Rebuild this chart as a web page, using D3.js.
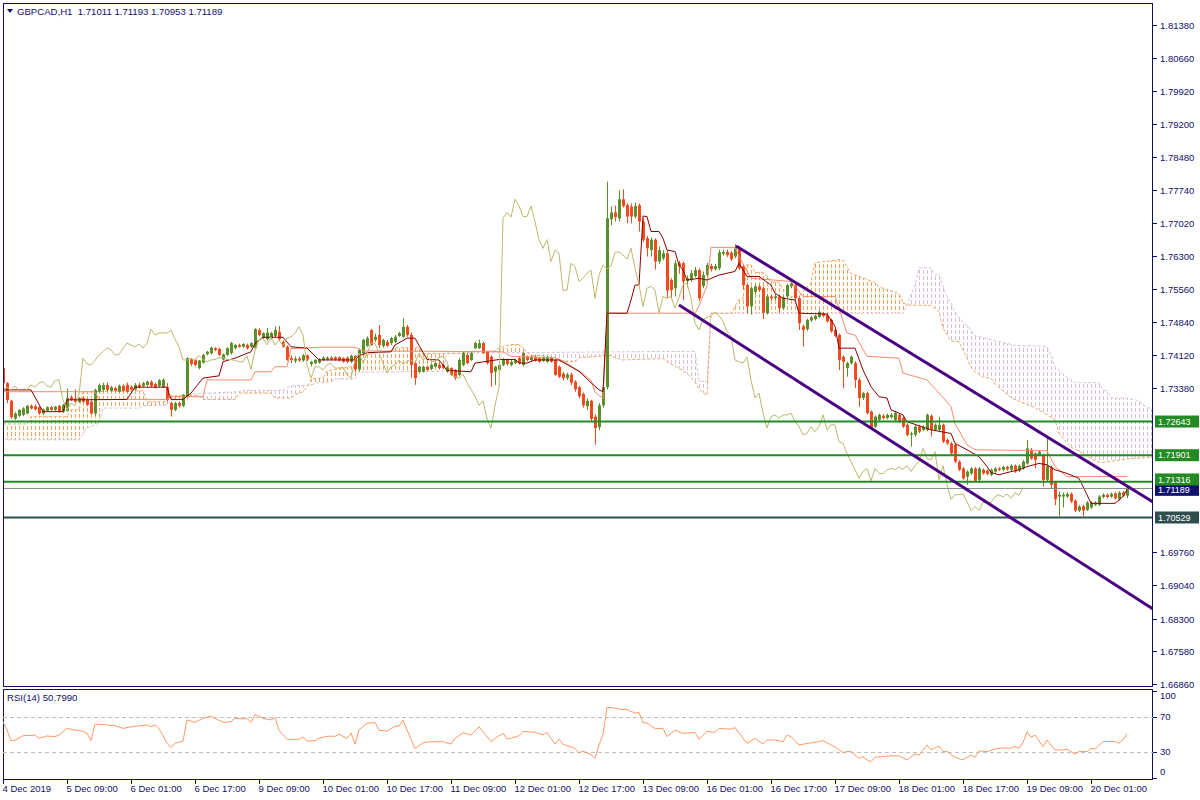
<!DOCTYPE html>
<html><head><meta charset="utf-8">
<script src="https://cdn.jsdelivr.net/npm/d3@7"></script>
<style>
html,body{margin:0;padding:0;background:#fff;overflow:hidden;}
svg text{font-family:"Liberation Sans",Arial,sans-serif;}
</style></head><body>
<svg id="chart" width="1200" height="800"></svg>
<script>
// ---------------- DATA ----------------
const symbolTitle = "GBPCAD,H1  1.71011 1.71193 1.70953 1.71189";
const rsiTitle = "RSI(14) 50.7990";
// hourly candles [open, high, low, close], 4 Dec 2019 17:00 -> 20 Dec 2019 10:00
const candles = [
[1.7382,1.7385,1.7346,1.7349],[1.7349,1.7351,1.7305,1.7312],[1.7310,1.7312,1.7270,1.7274],[1.7271,1.7285,1.7268,1.7282],
[1.7277,1.7292,1.7274,1.7290],[1.7279,1.7296,1.7276,1.7293],[1.7282,1.7301,1.7280,1.7299],[1.7299,1.7302,1.7291,1.7293],
[1.7298,1.7302,1.7289,1.7291],[1.7296,1.7298,1.7279,1.7282],[1.7282,1.7293,1.7278,1.7291],[1.7288,1.7298,1.7286,1.7296],
[1.7296,1.7298,1.7288,1.7290],[1.7290,1.7299,1.7287,1.7297],[1.7299,1.7301,1.7284,1.7286],[1.7286,1.7303,1.7283,1.7301],
[1.7288,1.7337,1.7286,1.7316],[1.7318,1.7322,1.7310,1.7312],[1.7315,1.7335,1.7306,1.7308],[1.7308,1.7318,1.7305,1.7316],
[1.7316,1.7319,1.7305,1.7308],[1.7312,1.7315,1.7298,1.7301],[1.7308,1.7311,1.7280,1.7282],[1.7282,1.7337,1.7277,1.7334],
[1.7330,1.7348,1.7328,1.7345],[1.7334,1.7350,1.7330,1.7345],[1.7345,1.7350,1.7330,1.7334],[1.7332,1.7343,1.7330,1.7340],
[1.7338,1.7341,1.7330,1.7332],[1.7330,1.7346,1.7328,1.7343],[1.7343,1.7346,1.7330,1.7332],[1.7345,1.7350,1.7328,1.7330],
[1.7341,1.7344,1.7333,1.7335],[1.7335,1.7349,1.7333,1.7345],[1.7345,1.7350,1.7337,1.7340],[1.7343,1.7352,1.7340,1.7349],
[1.7345,1.7355,1.7342,1.7352],[1.7352,1.7355,1.7340,1.7343],[1.7347,1.7350,1.7337,1.7340],[1.7343,1.7358,1.7340,1.7355],
[1.7340,1.7360,1.7338,1.7356],[1.7340,1.7349,1.7308,1.7312],[1.7305,1.7308,1.7275,1.7290],[1.7290,1.7308,1.7287,1.7305],
[1.7305,1.7308,1.7295,1.7299],[1.7299,1.7325,1.7296,1.7323],[1.7319,1.7406,1.7317,1.7404],[1.7401,1.7404,1.7387,1.7391],
[1.7400,1.7403,1.7386,1.7389],[1.7382,1.7400,1.7379,1.7399],[1.7394,1.7413,1.7392,1.7411],[1.7413,1.7420,1.7410,1.7418],
[1.7415,1.7429,1.7412,1.7427],[1.7426,1.7428,1.7419,1.7422],[1.7424,1.7427,1.7409,1.7411],[1.7401,1.7414,1.7399,1.7412],
[1.7411,1.7428,1.7409,1.7426],[1.7415,1.7440,1.7412,1.7437],[1.7426,1.7435,1.7423,1.7433],[1.7433,1.7436,1.7427,1.7429],
[1.7429,1.7437,1.7427,1.7435],[1.7433,1.7436,1.7423,1.7426],[1.7429,1.7439,1.7427,1.7437],[1.7426,1.7470,1.7423,1.7468],
[1.7466,1.7470,1.7452,1.7455],[1.7448,1.7461,1.7445,1.7459],[1.7446,1.7470,1.7443,1.7460],[1.7448,1.7462,1.7445,1.7459],
[1.7453,1.7474,1.7450,1.7466],[1.7462,1.7475,1.7443,1.7446],[1.7440,1.7443,1.7427,1.7429],[1.7429,1.7432,1.7398,1.7400],
[1.7404,1.7410,1.7393,1.7400],[1.7398,1.7408,1.7393,1.7403],[1.7403,1.7407,1.7396,1.7399],[1.7399,1.7413,1.7396,1.7410],
[1.7410,1.7412,1.7398,1.7401],[1.7391,1.7398,1.7386,1.7396],[1.7393,1.7402,1.7390,1.7400],[1.7394,1.7404,1.7392,1.7401],
[1.7400,1.7408,1.7398,1.7405],[1.7401,1.7408,1.7399,1.7405],[1.7405,1.7408,1.7399,1.7401],[1.7406,1.7408,1.7398,1.7401],
[1.7406,1.7408,1.7397,1.7399],[1.7404,1.7406,1.7394,1.7396],[1.7405,1.7408,1.7393,1.7396],[1.7396,1.7412,1.7393,1.7409],
[1.7409,1.7411,1.7374,1.7379],[1.7379,1.7425,1.7374,1.7422],[1.7415,1.7447,1.7412,1.7444],[1.7431,1.7452,1.7429,1.7448],
[1.7466,1.7468,1.7431,1.7433],[1.7444,1.7458,1.7440,1.7451],[1.7455,1.7477,1.7426,1.7433],[1.7431,1.7447,1.7427,1.7444],
[1.7440,1.7444,1.7429,1.7431],[1.7437,1.7451,1.7433,1.7448],[1.7440,1.7455,1.7437,1.7451],[1.7453,1.7462,1.7451,1.7459],
[1.7451,1.7492,1.7448,1.7473],[1.7473,1.7477,1.7451,1.7455],[1.7455,1.7460,1.7360,1.7389],[1.7393,1.7397,1.7345,1.7360],
[1.7374,1.7387,1.7370,1.7385],[1.7374,1.7388,1.7372,1.7385],[1.7385,1.7388,1.7376,1.7378],[1.7380,1.7392,1.7378,1.7389],
[1.7385,1.7396,1.7383,1.7393],[1.7389,1.7393,1.7380,1.7382],[1.7389,1.7391,1.7380,1.7382],[1.7374,1.7386,1.7372,1.7384],
[1.7382,1.7384,1.7365,1.7367],[1.7378,1.7380,1.7356,1.7360],[1.7367,1.7404,1.7364,1.7400],[1.7389,1.7418,1.7386,1.7415],
[1.7411,1.7415,1.7391,1.7393],[1.7400,1.7418,1.7398,1.7415],[1.7426,1.7440,1.7424,1.7437],[1.7426,1.7445,1.7424,1.7437],
[1.7437,1.7440,1.7413,1.7415],[1.7418,1.7420,1.7390,1.7393],[1.7407,1.7410,1.7341,1.7371],[1.7374,1.7387,1.7345,1.7385],
[1.7378,1.7396,1.7374,1.7389],[1.7389,1.7404,1.7386,1.7400],[1.7400,1.7403,1.7388,1.7391],[1.7389,1.7400,1.7386,1.7396],
[1.7393,1.7402,1.7391,1.7400],[1.7404,1.7407,1.7390,1.7393],[1.7389,1.7417,1.7386,1.7415],[1.7407,1.7410,1.7397,1.7400],
[1.7400,1.7410,1.7397,1.7407],[1.7406,1.7410,1.7396,1.7398],[1.7404,1.7406,1.7394,1.7396],[1.7398,1.7408,1.7396,1.7406],
[1.7396,1.7409,1.7394,1.7407],[1.7405,1.7408,1.7394,1.7396],[1.7400,1.7402,1.7365,1.7367],[1.7385,1.7388,1.7360,1.7363],
[1.7370,1.7374,1.7355,1.7360],[1.7360,1.7372,1.7356,1.7368],[1.7368,1.7372,1.7345,1.7350],[1.7352,1.7355,1.7330,1.7335],
[1.7340,1.7343,1.7315,1.7320],[1.7325,1.7328,1.7295,1.7300],[1.7298,1.7315,1.7290,1.7310],[1.7310,1.7312,1.7265,1.7270],
[1.7275,1.7280,1.7213,1.7250],[1.7252,1.7305,1.7245,1.7300],[1.7300,1.7345,1.7295,1.7340],[1.7340,1.7793,1.7335,1.7712],
[1.7710,1.7738,1.7697,1.7725],[1.7725,1.7740,1.7705,1.7715],[1.7712,1.7774,1.7705,1.7754],[1.7754,1.7776,1.7736,1.7739],
[1.7741,1.7745,1.7701,1.7716],[1.7738,1.7745,1.7701,1.7716],[1.7716,1.7747,1.7712,1.7739],[1.7741,1.7745,1.7683,1.7705],
[1.7705,1.7712,1.7660,1.7665],[1.7668,1.7673,1.7628,1.7646],[1.7642,1.7670,1.7628,1.7665],[1.7665,1.7668,1.7599,1.7617],
[1.7617,1.7650,1.7612,1.7642],[1.7624,1.7642,1.7620,1.7635],[1.7635,1.7640,1.7536,1.7553],[1.7576,1.7580,1.7535,1.7554],
[1.7558,1.7620,1.7540,1.7613],[1.7613,1.7618,1.7590,1.7606],[1.7613,1.7617,1.7532,1.7573],[1.7574,1.7586,1.7560,1.7580],
[1.7576,1.7598,1.7572,1.7591],[1.7585,1.7605,1.7582,1.7598],[1.7598,1.7602,1.7530,1.7536],[1.7563,1.7595,1.7558,1.7587],
[1.7587,1.7614,1.7582,1.7609],[1.7607,1.7612,1.7595,1.7600],[1.7600,1.7612,1.7597,1.7607],[1.7602,1.7643,1.7598,1.7637],
[1.7634,1.7643,1.7630,1.7638],[1.7638,1.7643,1.7627,1.7631],[1.7636,1.7640,1.7618,1.7622],[1.7628,1.7655,1.7624,1.7646],
[1.7646,1.7650,1.7598,1.7602],[1.7606,1.7610,1.7555,1.7565],[1.7565,1.7568,1.7503,1.7518],[1.7518,1.7562,1.7500,1.7558],
[1.7550,1.7566,1.7545,1.7562],[1.7562,1.7566,1.7550,1.7554],[1.7558,1.7562,1.7490,1.7504],[1.7503,1.7545,1.7500,1.7540],
[1.7540,1.7544,1.7532,1.7536],[1.7536,1.7544,1.7532,1.7540],[1.7540,1.7543,1.7503,1.7514],[1.7514,1.7542,1.7510,1.7538],
[1.7540,1.7568,1.7536,1.7565],[1.7562,1.7575,1.7558,1.7569],[1.7565,1.7570,1.7532,1.7536],[1.7536,1.7540,1.7466,1.7481],
[1.7474,1.7478,1.7429,1.7466],[1.7468,1.7491,1.7464,1.7488],[1.7487,1.7497,1.7484,1.7494],[1.7490,1.7500,1.7487,1.7497],
[1.7495,1.7509,1.7492,1.7506],[1.7503,1.7506,1.7494,1.7497],[1.7499,1.7503,1.7482,1.7485],[1.7488,1.7491,1.7460,1.7463],
[1.7466,1.7469,1.7450,1.7453],[1.7455,1.7458,1.7378,1.7400],[1.7407,1.7410,1.7338,1.7396],[1.7382,1.7396,1.7363,1.7393],
[1.7393,1.7410,1.7390,1.7407],[1.7393,1.7397,1.7338,1.7356],[1.7356,1.7360,1.7297,1.7316],[1.7316,1.7330,1.7312,1.7327],
[1.7327,1.7330,1.7280,1.7283],[1.7286,1.7289,1.7246,1.7250],[1.7253,1.7278,1.7250,1.7275],[1.7268,1.7282,1.7265,1.7279],
[1.7277,1.7281,1.7269,1.7272],[1.7272,1.7282,1.7269,1.7279],[1.7274,1.7283,1.7271,1.7279],[1.7268,1.7287,1.7265,1.7283],
[1.7279,1.7282,1.7261,1.7264],[1.7272,1.7276,1.7250,1.7253],[1.7257,1.7260,1.7232,1.7235],[1.7235,1.7242,1.7209,1.7238],
[1.7235,1.7256,1.7231,1.7253],[1.7253,1.7257,1.7239,1.7242],[1.7246,1.7256,1.7243,1.7253],[1.7246,1.7282,1.7243,1.7279],
[1.7277,1.7280,1.7231,1.7246],[1.7246,1.7260,1.7243,1.7257],[1.7246,1.7275,1.7243,1.7257],[1.7257,1.7260,1.7217,1.7220],
[1.7224,1.7227,1.7213,1.7216],[1.7216,1.7219,1.7191,1.7194],[1.7213,1.7216,1.7173,1.7176],[1.7176,1.7179,1.7155,1.7158],
[1.7161,1.7164,1.7136,1.7139],[1.7143,1.7157,1.7125,1.7154],[1.7150,1.7164,1.7147,1.7161],[1.7161,1.7164,1.7131,1.7134],
[1.7136,1.7164,1.7133,1.7161],[1.7158,1.7161,1.7147,1.7150],[1.7156,1.7159,1.7146,1.7149],[1.7147,1.7161,1.7144,1.7158],
[1.7154,1.7164,1.7151,1.7161],[1.7161,1.7164,1.7155,1.7158],[1.7158,1.7167,1.7155,1.7164],[1.7164,1.7167,1.7156,1.7159],
[1.7158,1.7170,1.7155,1.7167],[1.7167,1.7170,1.7151,1.7154],[1.7156,1.7170,1.7153,1.7167],[1.7161,1.7179,1.7158,1.7176],
[1.7172,1.7224,1.7169,1.7205],[1.7202,1.7206,1.7180,1.7183],[1.7194,1.7197,1.7161,1.7180],[1.7191,1.7201,1.7188,1.7198],
[1.7191,1.7194,1.7121,1.7136],[1.7136,1.7231,1.7133,1.7167],[1.7164,1.7167,1.7118,1.7125],[1.7130,1.7133,1.7080,1.7093],
[1.7099,1.7110,1.7056,1.7103],[1.7099,1.7108,1.7075,1.7103],[1.7099,1.7108,1.7096,1.7105],[1.7105,1.7108,1.7085,1.7088],
[1.7090,1.7093,1.7065,1.7068],[1.7068,1.7080,1.7065,1.7077],[1.7078,1.7081,1.7056,1.7068],[1.7070,1.7089,1.7067,1.7086],
[1.7075,1.7089,1.7072,1.7086],[1.7081,1.7089,1.7078,1.7086],[1.7081,1.7102,1.7078,1.7099],[1.7098,1.7106,1.7095,1.7103],
[1.7103,1.7106,1.7095,1.7098],[1.7099,1.7108,1.7096,1.7105],[1.7106,1.7109,1.7092,1.7095],[1.7093,1.7111,1.7090,1.7108],
[1.7108,1.7111,1.7098,1.7101],[1.71011,1.71193,1.70953,1.71189]
];
// Ichimoku lines: [bar index, price]
const tenkan = [[0,1.7334],[7,1.7334],[10,1.7286],[15,1.7286],[16,1.7312],[31,1.7313],[33,1.7340],[41,1.7340],[42,1.7313],[45,1.7313],[47,1.7327],[50,1.7360],[54,1.7365],[55,1.7396],[58,1.7404],[62,1.7418],[63,1.7437],[65,1.7450],[70,1.7450],[72,1.7429],[76,1.7426],[79,1.7400],[88,1.7400],[89,1.7409],[91,1.7416],[97,1.7418],[98,1.7433],[101,1.7448],[103,1.7448],[106,1.7401],[109,1.7400],[111,1.7377],[117,1.7374],[118,1.7393],[124,1.7401],[128,1.7401],[129,1.7393],[131,1.7393],[133,1.7400],[139,1.7400],[141,1.7390],[144,1.7375],[147,1.7350],[149,1.7334],[150,1.7330],[151,1.7503],[156,1.7503],[157,1.7532],[158,1.7565],[159,1.7565],[160,1.7717],[161,1.7716],[162,1.7683],[164,1.7683],[165,1.7668],[166,1.7642],[168,1.7639],[169,1.7609],[170,1.7598],[171,1.7576],[174,1.7580],[176,1.7576],[179,1.7587],[183,1.7595],[184,1.7613],[186,1.7584],[189,1.7584],[192,1.7565],[193,1.7547],[195,1.7536],[198,1.7532],[199,1.7503],[206,1.7501],[208,1.7474],[209,1.7426],[213,1.7426],[215,1.7378],[217,1.7341],[219,1.7319],[221,1.7316],[222,1.7290],[225,1.7279],[226,1.7264],[232,1.7246],[237,1.7238],[238,1.7216],[241,1.7202],[244,1.7187],[246,1.7165],[247,1.7152],[249,1.7147],[252,1.7154],[254,1.7158],[256,1.7165],[259,1.7172],[261,1.7169],[263,1.7158],[266,1.7150],[269,1.7139],[271,1.7103],[272,1.7084],[278,1.7084],[280,1.7099],[281,1.7114]];
const kijun = [[0,1.7330],[23,1.7330],[24,1.7313],[41,1.7313],[42,1.7319],[50,1.7319],[51,1.7356],[62,1.7356],[63,1.7374],[67,1.7374],[68,1.7385],[71,1.7385],[72,1.7425],[79,1.7428],[88,1.7428],[90,1.7420],[125,1.7418],[127,1.7408],[138,1.7405],[140,1.7398],[145,1.7370],[147,1.7355],[148,1.7329],[150,1.7315],[151,1.7503],[173,1.7503],[174,1.7519],[176,1.7564],[177,1.7648],[183,1.7648],[184,1.7628],[187,1.7580],[197,1.7573],[200,1.7540],[208,1.7540],[211,1.7459],[213,1.7455],[216,1.7408],[224,1.7404],[225,1.7371],[231,1.7356],[234,1.7327],[237,1.7297],[238,1.7260],[241,1.7213],[243,1.7202],[261,1.7200],[263,1.7165],[266,1.7143],[281,1.7143]];
const senkouA = [[0,1.7259],[6,1.7259],[7,1.7275],[16,1.7275],[17,1.7290],[19,1.7290],[20,1.7330],[35,1.7332],[36,1.7308],[41,1.7308],[42,1.7321],[49,1.7322],[50,1.7313],[58,1.7313],[59,1.7327],[67,1.7327],[68,1.7316],[72,1.7316],[73,1.7323],[75,1.7330],[76,1.7340],[77,1.7358],[80,1.7361],[81,1.7376],[84,1.7380],[88,1.7387],[89,1.7406],[91,1.7412],[94,1.7418],[97,1.7418],[98,1.7427],[104,1.7427],[105,1.7414],[114,1.7414],[117,1.7418],[123,1.7420],[124,1.7426],[127,1.7434],[129,1.7434],[132,1.7410],[135,1.7410],[137,1.7398],[143,1.7396],[144,1.7405],[152,1.7410],[153,1.7405],[155,1.7400],[165,1.7403],[166,1.7396],[167,1.7391],[170,1.7377],[171,1.7370],[173,1.7352],[174,1.7336],[175,1.7328],[176,1.7322],[177,1.7503],[182,1.7503],[183,1.7518],[184,1.7534],[185,1.7534],[186,1.7610],[187,1.7610],[188,1.7593],[190,1.7593],[191,1.7585],[192,1.7572],[194,1.7571],[195,1.7556],[196,1.7550],[197,1.7540],[199,1.7540],[200,1.7550],[202,1.7570],[203,1.7614],[209,1.7621],[210,1.7620],[212,1.7590],[215,1.7581],[218,1.7570],[219,1.7561],[221,1.7555],[224,1.7546],[225,1.7527],[226,1.7521],[232,1.7520],[234,1.7507],[235,1.7470],[237,1.7442],[239,1.7440],[241,1.7404],[242,1.7384],[243,1.7374],[245,1.7362],[247,1.7360],[248,1.7347],[251,1.7325],[252,1.7316],[258,1.7295],[263,1.7268],[264,1.7238],[267,1.7208],[270,1.7194],[272,1.7183],[273,1.7177],[275,1.7174],[278,1.7178],[282,1.7183],[287.5,1.7185]];
const senkouB = [[0,1.7224],[19,1.7224],[21,1.7250],[24,1.7261],[25,1.7294],[34,1.7294],[35,1.7299],[41,1.7301],[42,1.7312],[46,1.7312],[47,1.7325],[59,1.7330],[60,1.7333],[70,1.7333],[72,1.7343],[77,1.7344],[78,1.7349],[82,1.7352],[83,1.7358],[88,1.7358],[89,1.7373],[110,1.7375],[111,1.7415],[173,1.7419],[174,1.7353],[176,1.7353],[177,1.7503],[225,1.7503],[226,1.7519],[227,1.7544],[228,1.7564],[229,1.7603],[232,1.7603],[233,1.7588],[234,1.7588],[235,1.7563],[236,1.7541],[237,1.7525],[238,1.7506],[240,1.7483],[241,1.7476],[243,1.7453],[253,1.7432],[261,1.7430],[262,1.7410],[263,1.7385],[266,1.7362],[268,1.7350],[274,1.7350],[275,1.7335],[276,1.7331],[277,1.7316],[281,1.7316],[282,1.7314],[284,1.7310],[285,1.7301],[287.5,1.7290]];
const chikouShift = 26;
// RSI(14): [bar index, value]
const rsi = [[0,64.6],[1,55],[2,43],[3,43.5],[5,48.6],[8,49.3],[9,45.6],[11,48.3],[13,47.6],[14,49.3],[16,57],[18,55],[20,53.6],[21,51.6],[22,43],[23,62],[26,61],[28,60],[30,57],[32,58.8],[34,60],[36,61],[37,58.8],[38,61],[39,57],[41,40],[42,35],[43,40],[45,42.5],[46,66.6],[48,63.8],[50,68.5],[52,71],[53,68.5],[55,63.8],[57,64.8],[58,68.5],[60,67.8],[61,68.5],[62,63.8],[63,73],[65,68.5],[67,66.7],[68,69.3],[69,55],[71,44.5],[74,44.5],[75,47.3],[76,42.5],[78,43],[79,45.6],[81,48],[83,48],[84,50.3],[86,45.6],[87,51.8],[88,39],[89,55.4],[91,62.8],[93,63.8],[94,55],[96,53.9],[98,59.5],[99,59.5],[100,66.5],[101,55],[103,34],[105,40.6],[107,41.8],[110,41.8],[112,39],[113,45.6],[115,52],[117,49.3],[119,58.8],[122,41.8],[123,45.6],[125,51.4],[126,44.7],[128,47],[129,48.6],[130,53.5],[133,52.4],[135,49.7],[136,52.4],[138,39],[139,44.7],[140,39],[143,34],[144,29],[145,31],[147,27],[148,22.8],[149,38],[150,50],[151,81],[152,81],[154,79],[156,78.5],[158,74.5],[159,75],[160,63.8],[161,63],[163,57],[165,57],[166,47.6],[168,55],[170,51.4],[173,52.4],[174,44.7],[176,53.5],[178,52.4],[179,57],[182,56],[183,58],[186,39.8],[188,45.6],[190,39],[191,43.7],[193,43.7],[195,41.8],[196,49.3],[197,47.6],[199,38],[201,39.8],[203,41],[205,43],[207,38],[208,36],[210,29.3],[211,30.5],[212,30.5],[214,22.8],[215,24.8],[216,20.9],[217,19],[218,24],[222,25.6],[224,25.6],[226,20.9],[228,27.7],[229,26.5],[231,38],[232,32.4],[234,36.9],[235,30.5],[236,30.5],[238,24],[240,20.9],[242,26.5],[243,24],[244,31.3],[246,30.5],[248,33.3],[249,34.4],[252,34.4],[253,36.2],[254,34.4],[255,40.6],[256,53.2],[257,46.8],[258,49.3],[260,36.2],[261,43.7],[263,32.4],[265,32.4],[266,33.3],[268,27.7],[269,30.5],[271,30.5],[272,34.4],[273,33.3],[275,42],[278,42],[279,40],[280,44],[281,50.8]];
const rsiLevels = [70, 30];
const rsiTicks = [100, 70, 30, 0];
const priceTicks = [1.81380,1.80660,1.79920,1.79200,1.78480,1.77740,1.77020,1.76300,1.75560,1.74840,1.74120,1.73380,1.69760,1.69040,1.68300,1.67580,1.66860];
const xTickBars = [0,16,32,48,64,80,96,112,128,144,160,176,192,208,224,240,256,272];
const xTickLabels = ["4 Dec 2019","5 Dec 09:00","6 Dec 01:00","6 Dec 17:00","9 Dec 09:00","10 Dec 01:00","10 Dec 17:00","11 Dec 09:00","12 Dec 01:00","12 Dec 17:00","13 Dec 09:00","16 Dec 01:00","16 Dec 17:00","17 Dec 09:00","18 Dec 01:00","18 Dec 17:00","19 Dec 09:00","20 Dec 01:00"];
const resistanceLevels = [1.72643, 1.71901, 1.71316];
const supportLevels = [1.70529];
const bidPrice = 1.71189;
const channelUpper = [[183.25,1.76511],[287.5,1.70871]];
const channelLower = [[169,1.75211],[287.5,1.68514]];

// ---------------- LAYOUT ----------------
const L = 3, R = 1153, MT = 3, MB = 686, RT = 689, RB = 779;
const C = {
  frame:"#10106a", text:"#10106a", bull:"#5b8f2a", bear:"#f24a1d",
  tenkan:"#8b0000", kijun:"#fa8a6a", chikou:"#bdb76b", spanA:"#f4a460", spanB:"#d8bfd8",
  green:"#228b22", slate:"#2f4f4f", bid:"#8c8c8c", bidBox:"#10106e", channel:"#4b0082",
  rsi:"#ff9966", lvl:"#c0c0c0"
};
const svg = d3.select("#chart");
const x = d3.scaleLinear().domain([0, 287.5]).range([L, R]);
const y = d3.scaleLinear().domain([1.66860, 1.81380]).range([684, 25]);
const yR = d3.scaleLinear().domain([0, 100]).range([778.25, 690.75]);
const px = i => Math.round(x(i)) + 0.5;

const defs = svg.append("defs");
defs.append("clipPath").attr("id","mainClip").append("rect").attr("x",L).attr("y",MT).attr("width",R-L).attr("height",MB-MT);
defs.append("clipPath").attr("id","rsiClip").append("rect").attr("x",L).attr("y",RT).attr("width",R-L).attr("height",RB-RT);
function hatch(id, color){
  const p = defs.append("pattern").attr("id",id).attr("patternUnits","userSpaceOnUse")
    .attr("x",L).attr("y",0).attr("width",4).attr("height",6);
  p.append("rect").attr("x",0).attr("y",0).attr("width",1).attr("height",4).attr("fill",color);
}
hatch("hatchA", C.spanA); hatch("hatchB", C.spanB);
const lineGen = d3.line().x(d => x(d[0])).y(d => y(d[1]));
function polyBelow(pts){
  return lineGen(pts) + `L${x(pts[pts.length-1][0])},${MB+5}L${x(pts[0][0])},${MB+5}Z`;
}
function polyAbove(pts){
  return lineGen(pts) + `L${x(pts[pts.length-1][0])},${MT-5}L${x(pts[0][0])},${MT-5}Z`;
}
defs.append("clipPath").attr("id","belowA").append("path").attr("d", polyBelow(senkouA));
defs.append("clipPath").attr("id","aboveA").append("path").attr("d", polyAbove(senkouA));
defs.append("clipPath").attr("id","belowB").append("path").attr("d", polyBelow(senkouB));
defs.append("clipPath").attr("id","aboveB").append("path").attr("d", polyAbove(senkouB));

svg.append("rect").attr("width",1200).attr("height",800).attr("fill","#fff");
const main = svg.append("g").attr("clip-path","url(#mainClip)");

// cloud hatching
main.append("g").attr("clip-path","url(#belowA)").append("g").attr("clip-path","url(#aboveB)")
  .append("rect").attr("x",L).attr("y",MT).attr("width",R-L).attr("height",MB-MT).attr("fill","url(#hatchA)");
main.append("g").attr("clip-path","url(#aboveA)").append("g").attr("clip-path","url(#belowB)")
  .append("rect").attr("x",L).attr("y",MT).attr("width",R-L).attr("height",MB-MT).attr("fill","url(#hatchB)");
main.append("path").attr("d",lineGen(senkouB)).attr("fill","none").attr("stroke",C.spanB).attr("stroke-width",1).attr("stroke-dasharray","3,2");
main.append("path").attr("d",lineGen(senkouA)).attr("fill","none").attr("stroke",C.spanA).attr("stroke-width",1).attr("stroke-dasharray","3,2");

// candles
const cg = main.append("g");
candles.forEach((c,i) => {
  const [o,h,l,cl] = c; const up = cl >= o; const col = up ? C.bull : C.bear;
  const cx = px(i);
  cg.append("line").attr("x1",cx).attr("x2",cx).attr("y1",y(h)).attr("y2",y(l)).attr("stroke",col).attr("stroke-width",1);
  const top = y(Math.max(o,cl)), bot = y(Math.min(o,cl));
  cg.append("rect").attr("x",cx-1.5).attr("y",top).attr("width",3).attr("height",Math.max(1,bot-top)).attr("fill",col);
});

// Ichimoku lines
main.append("path").attr("d",lineGen(kijun)).attr("fill","none").attr("stroke",C.kijun).attr("stroke-width",1);
main.append("path").attr("d",lineGen(tenkan)).attr("fill","none").attr("stroke",C.tenkan).attr("stroke-width",1);
const chikouPts = candles.map((c,i)=>[i-chikouShift, c[3]]).filter(d=>d[0]>=0);
main.append("path").attr("d",lineGen(chikouPts)).attr("fill","none").attr("stroke",C.chikou).attr("stroke-width",1);

// horizontal levels
main.append("line").attr("x1",L).attr("x2",R).attr("y1",Math.round(y(bidPrice))+0.5).attr("y2",Math.round(y(bidPrice))+0.5).attr("stroke",C.bid).attr("stroke-width",1);
resistanceLevels.forEach(p=>{
  main.append("line").attr("x1",L).attr("x2",R).attr("y1",y(p)).attr("y2",y(p)).attr("stroke",C.green).attr("stroke-width",2);
});
supportLevels.forEach(p=>{
  main.append("line").attr("x1",L).attr("x2",R).attr("y1",y(p)).attr("y2",y(p)).attr("stroke",C.slate).attr("stroke-width",2);
});
[channelUpper, channelLower].forEach(pts=>{
  main.append("path").attr("d",lineGen(pts)).attr("fill","none").attr("stroke",C.channel).attr("stroke-width",3);
});

// frames
svg.append("rect").attr("x",L+0.5).attr("y",MT+0.5).attr("width",R-L-1).attr("height",MB-MT).attr("fill","none").attr("stroke",C.frame);
svg.append("rect").attr("x",L+0.5).attr("y",RT+0.5).attr("width",R-L-1).attr("height",RB-RT).attr("fill","none").attr("stroke",C.frame);

// price axis
const ax = svg.append("g").attr("font-size","9.5px").attr("fill",C.text);
priceTicks.forEach(p=>{
  const yy = Math.round(y(p))+0.5;
  ax.append("line").attr("x1",R).attr("x2",R+4).attr("y1",yy).attr("y2",yy).attr("stroke",C.frame);
  ax.append("text").attr("x",R+7).attr("y",yy).attr("dy","0.35em").text(p.toFixed(5));
});
// level boxes (pushed apart slightly when they would collide)
const boxes = [{p:bidPrice, fill:C.bidBox, z:0}]
  .concat(resistanceLevels.map(p=>({p, fill:C.green, z:1})))
  .concat(supportLevels.map(p=>({p, fill:C.slate, z:1})));
boxes.forEach(b=>b.yy = y(b.p));
const sorted = boxes.slice().sort((a,b)=>a.yy-b.yy);
for (let k=1;k<sorted.length;k++){
  const gap = sorted[k].yy - sorted[k-1].yy, need = 10.4;
  if (gap < need){ const d=(need-gap)/2; sorted[k-1].yy -= d; sorted[k].yy += d; }
}
boxes.sort((a,b)=>a.z-b.z).forEach(b=>{
  svg.append("rect").attr("x",R+2).attr("y",b.yy-6).attr("width",44).attr("height",12).attr("fill",b.fill);
  svg.append("text").attr("x",R+5).attr("y",b.yy).attr("dy","0.35em").attr("font-size","9px").attr("fill","#fff").text(b.p.toFixed(5));
});

// title
svg.append("path").attr("d","M7,9L13,9L10,13Z").attr("fill",C.text);
svg.append("text").attr("x",17).attr("y",15).attr("font-size","9.6px").attr("fill",C.text).attr("xml:space","preserve").text(symbolTitle);

// RSI panel
const rg = svg.append("g").attr("clip-path","url(#rsiClip)");
rsiLevels.forEach(v=>{
  rg.append("line").attr("x1",L).attr("x2",R).attr("y1",Math.round(yR(v))+0.5).attr("y2",Math.round(yR(v))+0.5)
    .attr("stroke",C.lvl).attr("stroke-dasharray","4,3");
});
rg.append("path").attr("d", d3.line().x(d=>x(d[0])).y(d=>yR(d[1]))(rsi)).attr("fill","none").attr("stroke",C.rsi).attr("stroke-width",1);
svg.append("text").attr("x",7).attr("y",701).attr("font-size","9.6px").attr("fill",C.text).text(rsiTitle);
rsiTicks.forEach(v=>{
  const yy = Math.min(RB-7, Math.max(RT+7, yR(v)));
  svg.append("line").attr("x1",R).attr("x2",R+4).attr("y1",Math.round(yR(v))+0.5).attr("y2",Math.round(yR(v))+0.5).attr("stroke",C.frame);
  svg.append("text").attr("x",R+7).attr("y",yy).attr("dy","0.35em").attr("font-size","9.5px").attr("fill",C.text).text(v);
});

// time axis
xTickBars.forEach((b,k)=>{
  const xx = px(b);
  svg.append("line").attr("x1",xx).attr("x2",xx).attr("y1",RB+1).attr("y2",RB+5).attr("stroke",C.frame);
  svg.append("text").attr("x",xx-1).attr("y",792).attr("font-size","9.5px").attr("fill",C.text).text(xTickLabels[k]);
});
</script>
</body></html>
